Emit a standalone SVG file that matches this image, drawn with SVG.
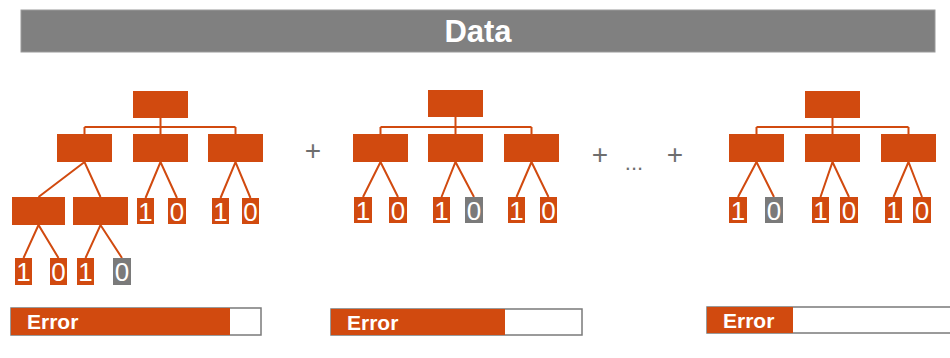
<svg xmlns="http://www.w3.org/2000/svg" width="950" height="358" viewBox="0 0 950 358">
  <style>
    .node { fill: #D14A0F; }
    .leaf { fill: #D14A0F; }
    .leaf.off { fill: #7A7A7A; }
    .digit { font-family: "Liberation Sans", Arial, sans-serif; font-size: 26px; fill: #ffffff; text-anchor: middle; }
    .wire { stroke: #D14A0F; stroke-width: 2; fill: none; }
    .op { font-family: "Liberation Sans", Arial, sans-serif; font-size: 28px; fill: #6E6E6E; text-anchor: middle; }
    .bar-frame { fill: #ffffff; stroke: #7A7A7A; stroke-width: 1.5; }
    .bar-fill { fill: #D14A0F; }
    .bar-label { font-family: "Liberation Sans", Arial, sans-serif; font-weight: bold; font-size: 21px; fill: #ffffff; }
  </style>

  <!-- header -->
  <g id="header">
    <rect x="21" y="10" width="914" height="42" fill="#808080" stroke="#9a9a9a" stroke-width="1"/>
    <text x="478" y="42" font-family="Liberation Sans, Arial, sans-serif" font-weight="bold" font-size="31" fill="#ffffff" text-anchor="middle">Data</text>
  </g>

  <!-- connectors -->
  <g id="connectors" class="wire">
    <!-- tree 1 -->
    <path d="M160.5,118 V127 M84.5,127 H235.5 M84.5,127 V134 M160.5,127 V134 M235.5,127 V134"/>
    <path d="M38.5,197 L84.5,162 L100.5,197"/>
    <path d="M145.5,198 L160.5,162 L177,198"/>
    <path d="M220.5,198 L235.5,162 L250.5,198"/>
    <path d="M23.5,258 L38.5,225 L58.5,258"/>
    <path d="M85.5,258 L100.5,225 L122,258"/>
    <!-- tree 2 -->
    <path d="M455.5,117 V127 M380.5,127 H531.5 M380.5,127 V134 M455.5,127 V134 M531.5,127 V134"/>
    <path d="M363,197 L380.5,162 L398,197"/>
    <path d="M441.5,197 L455.5,162 L474,197"/>
    <path d="M516.5,197 L531.5,162 L548.5,197"/>
    <!-- tree 3 -->
    <path d="M832.5,118 V127 M756.5,127 H908.5 M756.5,127 V134 M832.5,127 V134 M908.5,127 V134"/>
    <path d="M738,197 L756.5,162 L774,197"/>
    <path d="M820.5,197 L832.5,162 L849,197"/>
    <path d="M893.5,197 L908.5,162 L922,197"/>
  </g>

  <!-- tree 1 -->
  <g id="t1-root"><rect class="node" x="133" y="91" width="55" height="27"/></g>
  <g id="t1-a"><rect class="node" x="57" y="134" width="55" height="28"/></g>
  <g id="t1-b"><rect class="node" x="133" y="134" width="55" height="28"/></g>
  <g id="t1-c"><rect class="node" x="208" y="134" width="55" height="28"/></g>
  <g id="t1-a1"><rect class="node" x="12" y="197" width="53" height="28"/></g>
  <g id="t1-a2"><rect class="node" x="73" y="197" width="55" height="28"/></g>
  <g id="t1-b1"><rect class="leaf" x="137" y="198" width="17" height="26"/><text class="digit" x="145.5" y="221">1</text></g>
  <g id="t1-b2"><rect class="leaf" x="168" y="198" width="18" height="26"/><text class="digit" x="177" y="221">0</text></g>
  <g id="t1-c1"><rect class="leaf" x="212" y="198" width="17" height="26"/><text class="digit" x="220.5" y="221">1</text></g>
  <g id="t1-c2"><rect class="leaf" x="242" y="198" width="17" height="26"/><text class="digit" x="250.5" y="221">0</text></g>
  <g id="t1-a1a"><rect class="leaf" x="15" y="258" width="17" height="27"/><text class="digit" x="23.5" y="281">1</text></g>
  <g id="t1-a1b"><rect class="leaf" x="50" y="258" width="17" height="27"/><text class="digit" x="58.5" y="281">0</text></g>
  <g id="t1-a2a"><rect class="leaf" x="77" y="258" width="17" height="27"/><text class="digit" x="85.5" y="281">1</text></g>
  <g id="t1-a2b"><rect class="leaf off" x="113" y="258" width="18" height="27"/><text class="digit" x="122" y="281">0</text></g>

  <!-- operator between trees -->
  <text class="op" x="313" y="160">+</text>

  <!-- tree 2 -->
  <g id="t2-root"><rect class="node" x="428" y="90" width="55" height="27"/></g>
  <g id="t2-a"><rect class="node" x="353" y="134" width="55" height="28"/></g>
  <g id="t2-b"><rect class="node" x="428" y="134" width="55" height="28"/></g>
  <g id="t2-c"><rect class="node" x="504" y="134" width="55" height="28"/></g>
  <g id="t2-a1"><rect class="leaf" x="354" y="197" width="18" height="26"/><text class="digit" x="363" y="220">1</text></g>
  <g id="t2-a2"><rect class="leaf" x="389" y="197" width="18" height="26"/><text class="digit" x="398" y="220">0</text></g>
  <g id="t2-b1"><rect class="leaf" x="433" y="197" width="17" height="26"/><text class="digit" x="441.5" y="220">1</text></g>
  <g id="t2-b2"><rect class="leaf off" x="465" y="197" width="18" height="26"/><text class="digit" x="474" y="220">0</text></g>
  <g id="t2-c1"><rect class="leaf" x="508" y="197" width="17" height="26"/><text class="digit" x="516.5" y="220">1</text></g>
  <g id="t2-c2"><rect class="leaf" x="540" y="197" width="17" height="26"/><text class="digit" x="548.5" y="220">0</text></g>

  <!-- operators with ellipsis -->
  <text class="op" x="600" y="164">+</text>
  <text class="op" x="634" y="170" style="font-size:22px">...</text>
  <text class="op" x="675" y="164">+</text>

  <!-- tree 3 -->
  <g id="t3-root"><rect class="node" x="805" y="91" width="55" height="27"/></g>
  <g id="t3-a"><rect class="node" x="729" y="134" width="55" height="28"/></g>
  <g id="t3-b"><rect class="node" x="805" y="134" width="55" height="28"/></g>
  <g id="t3-c"><rect class="node" x="881" y="134" width="55" height="28"/></g>
  <g id="t3-a1"><rect class="leaf" x="729" y="197" width="18" height="26"/><text class="digit" x="738" y="220">1</text></g>
  <g id="t3-a2"><rect class="leaf off" x="765" y="197" width="18" height="26"/><text class="digit" x="774" y="220">0</text></g>
  <g id="t3-b1"><rect class="leaf" x="812" y="197" width="17" height="26"/><text class="digit" x="820.5" y="220">1</text></g>
  <g id="t3-b2"><rect class="leaf" x="840" y="197" width="18" height="26"/><text class="digit" x="849" y="220">0</text></g>
  <g id="t3-c1"><rect class="leaf" x="885" y="197" width="17" height="26"/><text class="digit" x="893.5" y="220">1</text></g>
  <g id="t3-c2"><rect class="leaf" x="913" y="197" width="18" height="26"/><text class="digit" x="922" y="220">0</text></g>

  <!-- error bars -->
  <g id="error-1">
    <rect class="bar-frame" x="11" y="308" width="250" height="27"/>
    <rect class="bar-fill" x="11" y="308" width="219" height="27"/>
    <text class="bar-label" x="27" y="329">Error</text>
  </g>
  <g id="error-2">
    <rect class="bar-frame" x="331" y="309" width="251" height="26"/>
    <rect class="bar-fill" x="331" y="309" width="174" height="26"/>
    <text class="bar-label" x="347" y="330">Error</text>
  </g>
  <g id="error-3">
    <rect class="bar-frame" x="707" y="307" width="250" height="26"/>
    <rect class="bar-fill" x="707" y="307" width="86" height="26"/>
    <text class="bar-label" x="723" y="328">Error</text>
  </g>
</svg>
